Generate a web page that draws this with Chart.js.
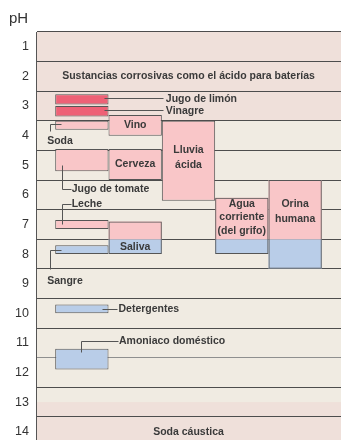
<!DOCTYPE html>
<html lang="es">
<head>
<meta charset="UTF-8">
<title>Escala de pH</title>
<script src="https://cdn.jsdelivr.net/npm/chart.js"></script>
<style>
  html, body { margin: 0; padding: 0; background: #fff; }
  #wrap { width: 341px; height: 440px; }
</style>
</head>
<body>
<div id="wrap"><canvas id="phChart"></canvas></div>
<script>
// pH values (1 at the top, 14 at the bottom)
const phTicks = [1, 2, 3, 4, 5, 6, 7, 8, 9, 10, 11, 12, 13, 14];
const columnCenters = [0.5, 1.5, 2.5, 3.5, 4.5];

const strongNames = ['Jugo de limón', 'Vinagre'];
const strongCol = [0, 0];
const strongRange = [[2.6, 2.95], [3.0, 3.35]];

const acidNames = ['Soda', 'Vino', 'Jugo de tomate', 'Cerveza', 'Lluvia ácida', 'Leche'];
const acidCol = [0, 1, 0, 1, 2, 0];
const acidRange = [[3.5, 3.8], [3.3, 4.0], [4.45, 5.2], [4.45, 5.5], [3.5, 6.2], [6.85, 7.15]];

const baseNames = ['Sangre', 'Detergentes', 'Amoniaco doméstico'];
const baseCol = [0, 0, 0];
const baseRange = [[7.7, 8.0], [9.7, 10.0], [11.2, 11.9]];

// bars that are partly acid, partly basic
const mixedNames = ['Saliva', 'Agua corriente (del grifo)', 'Orina humana'];
const mixedCol = [1, 3, 4];
const mixedAcid = [[6.9, 7.5], [6.1, 7.5], [5.5, 7.5]];
const mixedBase = [[7.5, 8.0], [7.5, 8.0], [7.5, 8.5]];

const bandNames = ['Sustancias corrosivas como el ácido para baterías', 'Soda cáustica'];
const bandLabelPh = [2, 14];
const bandRange = [[0.5, 3.5], [13, 14.5]];

const TEXT = '#3a3a3a';
const LEAD = '#555';
const LABEL_FONT = 'bold 10.5px "Liberation Sans", Arial, sans-serif';

function points(cols, ranges) {
  return cols.map((c, i) => ({ x: columnCenters[c], y: ranges[i] }));
}

const bandPlugin = {
  id: 'bands',
  beforeDraw(chart) {
    const { ctx, chartArea: a, scales: { y } } = chart;
    ctx.save();
    ctx.fillStyle = '#f0ebe2';
    ctx.fillRect(a.left, a.top, a.right - a.left, a.bottom - a.top);
    ctx.fillStyle = '#efe0da';
    bandRange.forEach(r => {
      const t = Math.max(a.top, y.getPixelForValue(r[0]));
      const b = Math.min(a.bottom, y.getPixelForValue(r[1]));
      ctx.fillRect(a.left, t, a.right - a.left, b - t);
    });
    ctx.restore();
  }
};

const labelPlugin = {
  id: 'labels',
  afterDatasetsDraw(chart) {
    const { ctx, chartArea: a, scales: { x, y } } = chart;
    const colLeft = c => x.getPixelForValue(columnCenters[c] - 0.5);
    const colRight = c => x.getPixelForValue(columnCenters[c] + 0.5);
    const colMid = c => x.getPixelForValue(columnCenters[c]);
    const py = v => y.getPixelForValue(v);
    const mid = r => (py(r[0]) + py(r[1])) / 2;
    const px = v => Math.round(v) + 0.5;

    ctx.save();
    ctx.font = LABEL_FONT;
    ctx.fillStyle = TEXT;
    ctx.textBaseline = 'middle';

    // centered text blocks
    const block = (lines, cx, cy, lh) => {
      ctx.textAlign = 'center';
      const top = cy - (lines.length - 1) * lh / 2;
      lines.forEach((l, i) => ctx.fillText(l, cx, top + i * lh));
    };
    bandNames.forEach((n, i) => block([n], (a.left + a.right) / 2, py(bandLabelPh[i]), 14));
    block([acidNames[1]], colMid(acidCol[1]), mid(acidRange[1]), 14);
    block([acidNames[3]], colMid(acidCol[3]), mid(acidRange[3]), 14);
    block(['Lluvia', 'ácida'], colMid(acidCol[4]), py(acidRange[4][0]) + 37, 14.5);
    block([mixedNames[0]], colMid(mixedCol[0]), mid(mixedBase[0]), 14);
    block(['Agua', 'corriente', '(del grifo)'], colMid(mixedCol[1]), mid(mixedAcid[1]) - 1, 13.5);
    block(['Orina', 'humana'], colMid(mixedCol[2]), mid(mixedAcid[2]) + 2, 15);

    // leader lines
    ctx.strokeStyle = LEAD;
    ctx.lineWidth = 1;
    const path = pts => {
      ctx.beginPath();
      pts.forEach((p, i) => (i ? ctx.lineTo(px(p[0]), px(p[1])) : ctx.moveTo(px(p[0]), px(p[1]))));
      ctx.stroke();
    };
    ctx.textAlign = 'left';

    strongNames.forEach((n, i) => {
      const yc = mid(strongRange[i]);
      const x0 = colRight(strongCol[i]) - 5, x1 = colLeft(2) + 1.5;
      path([[x0, yc - 1.5], [x1, yc - 1.5]]);
      ctx.fillText(n, x1 + 2.5, yc);
    });

    const l0 = colLeft(0), r0 = colRight(0);

    // Soda
    let yc = mid(acidRange[0]);
    path([[l0 + 5.5, yc - 1], [l0 - 5, yc - 1], [l0 - 5, yc + 6]]);
    ctx.fillText(acidNames[0], l0 - 8, yc + 15.5);

    // Jugo de tomate
    let t = py(acidRange[2][0]), b = py(acidRange[2][1]);
    path([[l0 + 7, t + 16], [l0 + 7, b + 17.5], [l0 + 15.5, b + 17.5]]);
    ctx.fillText(acidNames[2], l0 + 16.5, b + 17.5);

    // Leche
    t = py(acidRange[5][0]);
    path([[l0 + 7, t + 4], [l0 + 7, t - 16], [l0 + 15.5, t - 16]]);
    ctx.fillText(acidNames[5], l0 + 16.5, t - 16);

    // Sangre
    yc = mid(baseRange[0]);
    path([[l0 + 5.5, yc], [l0 - 5, yc], [l0 - 5, yc + 19.5]]);
    ctx.fillText(baseNames[0], l0 - 8, yc + 31);

    // Detergentes
    yc = mid(baseRange[1]);
    path([[r0 - 6.5, yc], [r0 + 8.5, yc]]);
    ctx.fillText(baseNames[1], r0 + 10, yc);

    // Amoniaco doméstico
    t = py(baseRange[2][0]);
    const xm = colMid(0) - 1;
    path([[xm, t + 3.5], [xm, t - 7.5], [r0 + 9, t - 7.5]]);
    ctx.fillText(baseNames[2], r0 + 10.5, t - 7.5);

    // axis title
    ctx.font = '15px "Liberation Sans", Arial, sans-serif';
    ctx.fillStyle = '#333';
    ctx.textBaseline = 'alphabetic';
    ctx.fillText('pH', 9, 22.5);
    ctx.restore();
  }
};

const barBase = {
  type: 'bar',
  grouped: false,
  barPercentage: 1,
  categoryPercentage: 1,
  borderSkipped: false,
  inflateAmount: 0
};

new Chart(document.getElementById('phChart'), {
  type: 'bar',
  data: {
    datasets: [
      Object.assign({}, barBase, {
        label: 'contorno',
        data: mixedCol.map((c, i) => ({ x: columnCenters[c], y: [mixedAcid[i][0], mixedBase[i][1]] })),
        backgroundColor: 'rgba(0,0,0,0)',
        borderColor: LEAD,
        borderWidth: 1
      }),
      Object.assign({}, barBase, {
        label: 'ácido fuerte',
        data: points(strongCol, strongRange),
        backgroundColor: '#ee6176',
        borderColor: LEAD,
        borderWidth: 1
      }),
      Object.assign({}, barBase, {
        label: 'ácido',
        data: points(acidCol, acidRange),
        backgroundColor: '#f9c6c8',
        borderColor: LEAD,
        borderWidth: 1
      }),
      Object.assign({}, barBase, {
        label: 'básico',
        data: points(baseCol, baseRange),
        backgroundColor: '#b9cde8',
        borderColor: LEAD,
        borderWidth: 1
      }),
      Object.assign({}, barBase, {
        label: 'mixto ácido',
        data: points(mixedCol, mixedAcid),
        backgroundColor: '#f9c6c8',
        borderWidth: 0
      }),
      Object.assign({}, barBase, {
        label: 'mixto básico',
        data: points(mixedCol, mixedBase),
        backgroundColor: '#b9cde8',
        borderWidth: 0
      })
    ]
  },
  options: {
    responsive: true,
    maintainAspectRatio: false,
    animation: false,
    layout: { padding: { top: 32, right: 0, bottom: 0, left: 0 } },
    plugins: { legend: { display: false }, tooltip: { enabled: false } },
    scales: {
      x: {
        type: 'linear',
        display: false,
        offset: false,
        min: -0.36,
        max: 5.36,
        afterBuildTicks: axis => { axis.ticks = [0, 1, 2, 3, 4, 5].map(v => ({ value: v })); }
      },
      y: {
        type: 'linear',
        reverse: true,
        min: 0.5,
        max: 14.28,
        afterBuildTicks: axis => { axis.ticks = phTicks.map(v => ({ value: v })); },
        afterFit: axis => { axis.width = 36; axis.paddingTop = 0; axis.paddingBottom = 0; },
        border: { display: true, color: LEAD, width: 1 },
        grid: {
          offset: true,
          drawTicks: false,
          color: c => (c.index === 11 ? '#8f8f8f' : '#4d4d4d'),
          lineWidth: 1
        },
        ticks: {
          padding: 7,
          color: '#333',
          font: { family: '"Liberation Sans", Arial, sans-serif', size: 12.5 }
        }
      }
    }
  },
  plugins: [bandPlugin, labelPlugin]
});
</script>
</body>
</html>
